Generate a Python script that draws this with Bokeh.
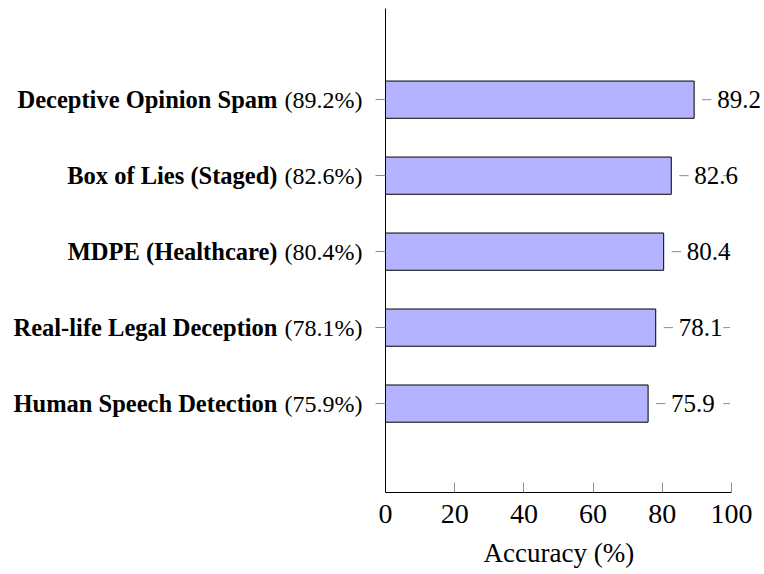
from bokeh.plotting import figure
from bokeh.models import ColumnDataSource, LinearAxis, FixedTicker, LabelSet, Range1d
from bokeh.core.properties import value
from bokeh.embed import file_html
from bokeh.resources import INLINE

# ---- data ----
categories = ["Human Speech Detection", "Real-life Legal Deception", "MDPE (Healthcare)",
              "Box of Lies (Staged)", "Deceptive Opinion Spam"]
accuracy = [75.9, 78.1, 80.4, 82.6, 89.2]
x_ticks = [0, 20, 40, 60, 80, 100]
x_title = "Accuracy (%)"

positions = list(range(len(categories)))
value_text = ["%.1f" % v for v in accuracy]
pct_text = ["(%.1f%%)" % v for v in accuracy]

SERIF = "Liberation Serif"
GRAY = "#8c8c8c"

src = ColumnDataSource(dict(
    pos=positions, acc=accuracy, txt=value_text,
    d0=[v + 2.3 for v in accuracy], d1=[v + 5.0 for v in accuracy],
))

p = figure(width=764, height=574, frame_width=379, frame_height=484,
           x_range=Range1d(0, 109.54), y_range=Range1d(-1.17, 5.2),
           output_backend="svg", toolbar_location=None,
           x_axis_location=None, y_axis_location=None,
           min_border_left=385, min_border_top=8, min_border_right=0, min_border_bottom=10)
p.outline_line_color = None
p.xgrid.visible = False
p.ygrid.visible = False
p.background_fill_color = "white"

# bars
p.hbar(y="pos", left=0, right="acc", height=0.49, source=src,
       fill_color="#b3b3ff", line_color="black", line_width=1)

# small gray dashes near value labels
p.segment(x0="d0", x1="d1", y0="pos", y1="pos", source=src, line_color=GRAY, line_width=1)
p.segment(x0=97.6, x1=99.6, y0="pos", y1="pos", source=src, line_color=GRAY, line_width=1)

# value labels
labels = LabelSet(x="acc", y="pos", text="txt", source=src, x_offset=23,
                  text_baseline="middle", text_align="left",
                  text_font=value(SERIF), text_font_size=value("25px"), text_color="black")
p.add_layout(labels)

# bottom axis (title padded on the right so it sits centred under 0..100)
xaxis = LinearAxis(ticker=FixedTicker(ticks=x_ticks), bounds=(0, 100),
                   axis_label=x_title + "\u2003\u2009")
xaxis.axis_line_color = "black"
xaxis.axis_line_width = 1
xaxis.major_tick_in = 10
xaxis.major_tick_out = 0
xaxis.major_tick_line_color = GRAY
xaxis.minor_tick_line_color = None
xaxis.major_label_text_font = SERIF
xaxis.major_label_text_font_size = "28px"
xaxis.major_label_text_color = "black"
xaxis.major_label_standoff = 12
xaxis.axis_label_text_font = SERIF
xaxis.axis_label_text_font_size = "27px"
xaxis.axis_label_text_font_style = "normal"
xaxis.axis_label_text_color = "black"
xaxis.axis_label_standoff = 12
p.add_layout(xaxis, "below")

# inner left axis: percentages
yaxis_in = LinearAxis(ticker=FixedTicker(ticks=positions),
                      major_label_overrides={k: t for k, t in zip(positions, pct_text)})
yaxis_in.axis_line_color = "black"
yaxis_in.axis_line_width = 1
yaxis_in.major_tick_in = 0
yaxis_in.major_tick_out = 10
yaxis_in.major_tick_line_color = GRAY
yaxis_in.minor_tick_line_color = None
yaxis_in.major_label_text_font = SERIF
yaxis_in.major_label_text_font_size = "24px"
yaxis_in.major_label_text_color = "black"
yaxis_in.major_label_standoff = 13
p.add_layout(yaxis_in, "left")

# outer left axis: bold category names
yaxis_out = LinearAxis(ticker=FixedTicker(ticks=positions),
                       major_label_overrides={k: t for k, t in zip(positions, categories)})
yaxis_out.axis_line_color = None
yaxis_out.major_tick_line_color = None
yaxis_out.minor_tick_line_color = None
yaxis_out.major_tick_in = 0
yaxis_out.major_tick_out = 0
yaxis_out.major_label_text_font = SERIF
yaxis_out.major_label_text_font_size = "24.5px"
yaxis_out.major_label_text_font_style = "bold"
yaxis_out.major_label_text_color = "black"
yaxis_out.major_label_standoff = 4
p.add_layout(yaxis_out, "left")

open("out.html", "w").write(file_html(p, INLINE))
